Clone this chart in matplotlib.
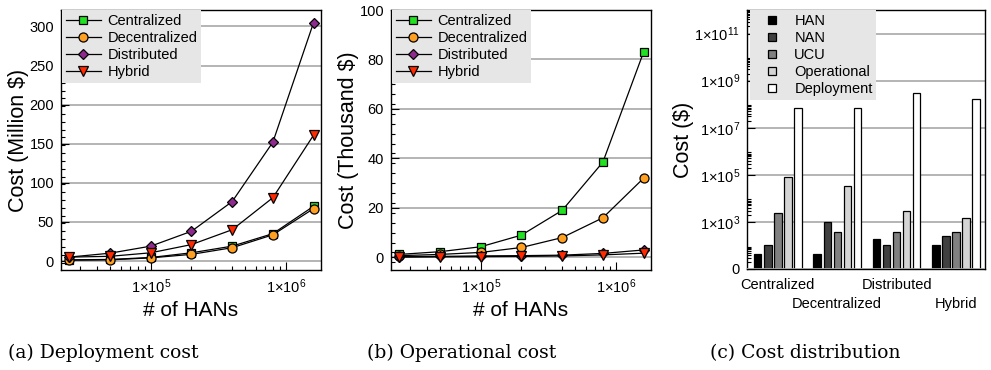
import matplotlib
matplotlib.use("Agg")
import matplotlib.pyplot as plt
from matplotlib.lines import Line2D
from matplotlib.ticker import FixedLocator, NullFormatter, LogLocator
import numpy as np

plt.rcParams["font.family"] = ["Liberation Sans", "DejaVu Sans"]
plt.rcParams["mathtext.fontset"] = "custom"
plt.rcParams["mathtext.rm"] = "Liberation Sans"
plt.rcParams["mathtext.it"] = "Liberation Sans:italic"
plt.rcParams["mathtext.bf"] = "Liberation Sans:bold"

# ---- data ----
hans = [25000, 50000, 100000, 200000, 400000, 800000, 1600000]
series = ["Centralized", "Decentralized", "Distributed", "Hybrid"]

# (a) deployment cost, million $
deploy_central = [1.5, 2.0, 4.5, 10.5, 19, 35, 70]
deploy_decentral = [1.0, 1.5, 4.0, 8.5, 17, 33.5, 67]
deploy_distrib = [5, 10, 19, 38, 76, 152, 305]
deploy_hybrid = [5, 6, 10.5, 21, 40, 81, 161]

# (b) operational cost, thousand $
oper_central = [1.2, 2.3, 4.3, 9.0, 19, 38.5, 83]
oper_decentral = [0.7, 1.2, 2.0, 4.0, 8.0, 16, 32]
oper_distrib = [0.3, 0.4, 0.6, 0.7, 0.9, 1.6, 3.0]
oper_hybrid = [0.1, 0.2, 0.3, 0.4, 0.6, 1.0, 1.7]

# (c) cost distribution, $
components = ["HAN", "NAN", "UCU", "Operational", "Deployment"]
dist_han = [42, 42, 195, 100]
dist_nan = [100, 1000, 100, 245]
dist_ucu = [2350, 390, 390, 390]
dist_oper = [83000, 32000, 3000, 1500]
dist_deploy = [6.9e7, 6.8e7, 3.0e8, 1.6e8]

# ---- styles ----
line_styles = [
    dict(marker="s", color="#22e022", ms=5.5),
    dict(marker="o", color="#ffa020", ms=6.5),
    dict(marker="D", color="#8e2a8e", ms=5.5),
    dict(marker="v", color="#ff2a00", ms=7),
]
bar_colors = ["#000000", "#404040", "#808080", "#d4d4d4", "#ffffff"]
grid_color = "#a0a0a0"
legend_bg = "#e6e6e6"
tick_fs = 10.5
label_fs = 15.5

fig = plt.figure(figsize=(9.91, 3.70), dpi=100)
W, H = 991.0, 370.0


def px_axes(left, top, right, bottom):
    return fig.add_axes([left / W, 1 - bottom / H, (right - left) / W, (bottom - top) / H])


def style_line_axes(ax, ylim, ymajor, ylabel):
    ax.set_xscale("log")
    ax.set_xlim(21700, 1.815e6)
    ax.set_ylim(*ylim)
    ax.xaxis.set_major_locator(FixedLocator([1e5, 1e6]))
    ax.set_xticklabels([r"$1{\times}10^{5}$", r"$1{\times}10^{6}$"])
    ax.xaxis.set_minor_locator(LogLocator(base=10, subs=np.arange(2, 10)))
    ax.xaxis.set_minor_formatter(NullFormatter())
    ax.set_yticks(ymajor)
    ax.yaxis.set_minor_locator(FixedLocator(np.arange(ylim[0] // 1, ylim[1], (ymajor[1] - ymajor[0]) / 5)))
    ax.tick_params(which="both", direction="in", top=False, right=False, labelsize=tick_fs, pad=5)
    ax.tick_params(which="major", length=6, width=0.8)
    ax.tick_params(which="minor", length=3, width=0.8)
    for y in ymajor:
        ax.axhline(y, color=grid_color, lw=1.1, zorder=0)
    ax.set_xlabel("# of HANs", fontsize=15, labelpad=4)
    ax.set_ylabel(ylabel, fontsize=label_fs, labelpad=0)
    for s in ax.spines.values():
        s.set_linewidth(1.0)


def draw_lines(ax, ys):
    handles = []
    for name, y, st in zip(series, ys, line_styles):
        h, = ax.plot(hans, y, color="black", lw=0.9, marker=st["marker"],
                     markerfacecolor=st["color"], markeredgecolor="black",
                     markeredgewidth=0.9, markersize=st["ms"], label=name, zorder=3)
        handles.append(h)
    leg = ax.legend(handles=handles, loc="upper left", bbox_to_anchor=(0.005, 1.0),
                    borderaxespad=0, frameon=True, fancybox=False, fontsize=tick_fs,
                    handlelength=2.4, handletextpad=0.45, labelspacing=0.22,
                    borderpad=0.25)
    leg.get_frame().set_facecolor(legend_bg)
    leg.get_frame().set_edgecolor("none")
    leg.get_frame().set_alpha(1)
    leg.set_zorder(5)


# (a)
ax1 = px_axes(61, 10, 321, 270)
style_line_axes(ax1, (-11.5, 321), [0, 50, 100, 150, 200, 250, 300], "Cost (Million $)")
draw_lines(ax1, [deploy_central, deploy_decentral, deploy_distrib, deploy_hybrid])

# (b)
ax2 = px_axes(391, 10, 651, 270)
style_line_axes(ax2, (-5.1, 100), [0, 20, 40, 60, 80, 100], "Cost (Thousand $)")
draw_lines(ax2, [oper_central, oper_decentral, oper_distrib, oper_hybrid])

# (c)
ax3 = px_axes(747, 10, 985, 269)
groups = [dist_han, dist_nan, dist_ucu, dist_oper, dist_deploy]
x = np.arange(len(series))
step = 0.169
width = 0.124
for i, (vals, col) in enumerate(zip(groups, bar_colors)):
    ax3.bar(x + (i - 2) * step, vals, width=width, bottom=0, color=col,
            edgecolor="black", linewidth=0.9, zorder=3)
ax3.set_yscale("log")
ax3.set_ylim(10, 1e12)
ax3.set_xlim(-0.52, 3.49)
ymaj = [10, 1e3, 1e5, 1e7, 1e9, 1e11]
ax3.yaxis.set_major_locator(FixedLocator(ymaj))
ax3.set_yticklabels(["0"] + [r"$1{\times}10^{%d}$" % e for e in (3, 5, 7, 9, 11)])
ax3.yaxis.set_minor_locator(FixedLocator([k * 10.0 ** e for e in (1, 3, 5, 7, 9, 11) for k in range(2, 10)]))
ax3.yaxis.set_minor_formatter(NullFormatter())
ax3.tick_params(which="both", direction="in", top=False, right=False, labelsize=tick_fs, pad=5)
ax3.tick_params(axis="y", which="major", length=6, width=0.8)
ax3.tick_params(axis="y", which="minor", length=3, width=0.8)
ax3.set_xticks([])
for y in ymaj[1:]:
    ax3.axhline(y, color=grid_color, lw=1.1, zorder=0)
ax3.axhline(10, color=grid_color, lw=2.0, zorder=4)
for i, name in enumerate(series):
    ax3.text(x[i], -0.035 if i % 2 == 0 else -0.11, name, transform=ax3.get_xaxis_transform(),
             ha="center", va="top", fontsize=tick_fs)
ax3.set_ylabel("Cost ($)", fontsize=label_fs, labelpad=0)
for s in ax3.spines.values():
    s.set_linewidth(1.0)
bar_handles = [Line2D([], [], ls="none", marker="s", markersize=5.5, markerfacecolor=c,
                      markeredgecolor="black", markeredgewidth=0.9) for c in bar_colors]
leg3 = ax3.legend(bar_handles, components, loc="upper left", bbox_to_anchor=(0.012, 1.0),
                  borderaxespad=0, frameon=True, fancybox=False, fontsize=tick_fs,
                  handlelength=2.6, handletextpad=0.2, labelspacing=0.21, borderpad=0.25)
leg3.get_frame().set_facecolor(legend_bg)
leg3.get_frame().set_edgecolor("none")
leg3.get_frame().set_alpha(1)
leg3.set_zorder(5)

# captions
cap_font = dict(family="DejaVu Serif", fontsize=13.5, va="baseline", ha="left")
fig.text(8 / W, 1 - 358 / H, "(a) Deployment cost", **cap_font)
fig.text(367 / W, 1 - 358 / H, "(b) Operational cost", **cap_font)
fig.text(710 / W, 1 - 358 / H, "(c) Cost distribution", **cap_font)

fig.savefig("out.png", dpi=100)
